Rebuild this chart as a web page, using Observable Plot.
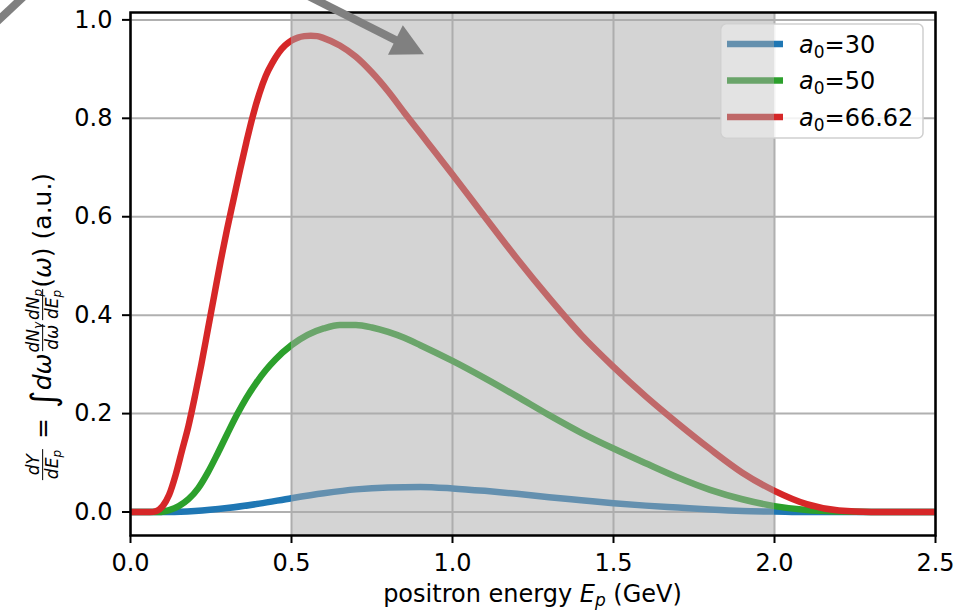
<!DOCTYPE html>
<html><head><meta charset="utf-8">
<script src="https://cdn.jsdelivr.net/npm/d3@7"></script>
<script src="https://cdn.jsdelivr.net/npm/@observablehq/plot@0.6"></script>
<style>
html,body{margin:0;padding:0;background:#fff;}
#wrap{position:relative;width:967px;height:610px;font-family:"DejaVu Sans",sans-serif;overflow:hidden;}
#ylab{position:absolute;left:43px;top:327px;transform:translate(-50%,-50%) rotate(-90deg);font-size:25px;white-space:nowrap;display:flex;align-items:center;color:#000;}
#ylab i{font-style:italic;}
#ylab .frac{display:inline-flex;flex-direction:column;align-items:center;font-size:17px;line-height:1.08;margin:0 1px;}
#ylab .den{border-top:1.4px solid #000;padding:0 1px;}
#ylab sub{font-size:0.7em;vertical-align:-0.25em;line-height:0;}
#ylab .int{font-size:34px;line-height:1;margin-left:1px;}
</style></head><body>
<div id="wrap"></div>
<script>
// ---- data ----
const seriesLabels = ["30", "50", "66.62"];           // a0 values
const seriesColors = ["#1f77b4", "#2ca02c", "#d62728"];
const seriesMuted  = ["#6490ae", "#6aa46a", "#bf6868"];

const blueE = [0, 0.12, 0.2, 0.3, 0.4, 0.5, 0.6, 0.7, 0.8, 0.9, 1.0, 1.1, 1.2, 1.3, 1.4, 1.5, 1.6, 1.7, 1.8, 1.9, 2.0, 2.1, 2.5];
const blueY = [0, 0, 0.002, 0.008, 0.017, 0.028, 0.038, 0.046, 0.05, 0.051, 0.048, 0.043, 0.037, 0.03, 0.024, 0.018, 0.013, 0.009, 0.005, 0.002, 0.001, 0, 0];

const greenE = [0, 0.09, 0.12, 0.15, 0.18, 0.21, 0.24, 0.27, 0.3, 0.33, 0.36, 0.39, 0.42, 0.45, 0.5, 0.55, 0.6, 0.65, 0.7, 0.75, 0.8, 0.85, 0.9, 1.0, 1.1, 1.2, 1.3, 1.4, 1.5, 1.6, 1.7, 1.8, 1.9, 2.0, 2.1, 2.2, 2.3, 2.5];
const greenY = [0, 0, 0.004, 0.012, 0.026, 0.048, 0.08, 0.118, 0.158, 0.197, 0.232, 0.262, 0.288, 0.31, 0.339, 0.36, 0.373, 0.38, 0.38, 0.375, 0.366, 0.354, 0.339, 0.307, 0.272, 0.235, 0.197, 0.161, 0.129, 0.099, 0.07, 0.045, 0.026, 0.012, 0.004, 0.001, 0, 0];

const redE = [0, 0.06, 0.08, 0.1, 0.12, 0.14, 0.16, 0.18, 0.2, 0.22, 0.24, 0.26, 0.28, 0.3, 0.32, 0.34, 0.36, 0.38, 0.4, 0.42, 0.44, 0.46, 0.48, 0.5, 0.52, 0.54, 0.56, 0.58, 0.6, 0.65, 0.7, 0.75, 0.8, 0.85, 0.9, 0.95, 1.0, 1.1, 1.2, 1.3, 1.4, 1.5, 1.6, 1.7, 1.8, 1.9, 2.0, 2.1, 2.2, 2.3, 2.5];
const redY = [0, 0, 0.002, 0.012, 0.035, 0.075, 0.125, 0.175, 0.235, 0.3, 0.37, 0.44, 0.51, 0.575, 0.635, 0.695, 0.752, 0.805, 0.85, 0.886, 0.912, 0.933, 0.948, 0.958, 0.964, 0.967, 0.968, 0.967, 0.963, 0.948, 0.925, 0.893, 0.855, 0.812, 0.77, 0.728, 0.686, 0.6, 0.515, 0.435, 0.36, 0.295, 0.235, 0.18, 0.128, 0.08, 0.043, 0.016, 0.003, 0, 0];

const xTicks = [0, 0.5, 1.0, 1.5, 2.0, 2.5];
const yTicks = [0, 0.2, 0.4, 0.6, 0.8, 1.0];
const xDomain = [0, 2.5];
const yDomain = [-0.0477, 1.015];
const shadeRange = [0.5, 2.0];

// annotation arrow (data units), partly outside the axes
const arrowStart = [0.519, 1.059];
const arrowTip = [0.913, 0.929];
const stubStart = [-0.419, 0.992];
const stubEnd = [-0.326, 1.049];

// ---- build ----
const toRows = (E, Y) => E.map((e, i) => ({e, v: Y[i]}));
const series = [toRows(blueE, blueY), toRows(greenE, greenY), toRows(redE, redY)];

const plot = Plot.plot({
  width: 967, height: 610,
  marginLeft: 130, marginRight: 32, marginTop: 12, marginBottom: 75,
  style: {fontFamily: "DejaVu Sans", background: "white", color: "black"},
  x: {domain: xDomain, label: null},
  y: {domain: yDomain, label: null},
  marks: [
    Plot.gridX(xTicks, {stroke: "#b0b0b0", strokeOpacity: 1, strokeWidth: 2}),
    Plot.gridY(yTicks, {stroke: "#b0b0b0", strokeOpacity: 1, strokeWidth: 2}),
    ...series.map((rows, i) => Plot.line(rows, {x: "e", y: "v", stroke: seriesColors[i], strokeWidth: 6.5, curve: "monotone-x", clip: true, strokeLinecap: "butt"})),
    Plot.rect([{x1: shadeRange[0], x2: shadeRange[1], y1: yDomain[0], y2: yDomain[1]}], {x1: "x1", x2: "x2", y1: "y1", y2: "y2", fill: "darkgray", fillOpacity: 0.5}),
    Plot.frame({stroke: "black", strokeWidth: 2.5}),
    Plot.axisX(xTicks, {tickFormat: d3.format(".1f"), tickSize: 8, tickPadding: 10, fontSize: 24, strokeWidth: 2, label: null}),
    Plot.axisY(yTicks, {tickFormat: d3.format(".1f"), tickSize: 8, tickPadding: 10, fontSize: 24, strokeWidth: 2, label: null})
  ]
});

const sx = plot.scale("x"), sy = plot.scale("y");
const X = v => sx.apply(v), Y = v => sy.apply(v);
const svg = d3.select(plot);

// arrow with filled head
(function () {
  const x0 = X(arrowStart[0]), y0 = Y(arrowStart[1]);
  const x1 = X(arrowTip[0]), y1 = Y(arrowTip[1]);
  const dx = x1 - x0, dy = y1 - y0, L = Math.hypot(dx, dy);
  const ux = dx / L, uy = dy / L, nx = -uy, ny = ux;
  const hl = 32, hw = 16.5;
  const bx = x1 - hl * ux, by = y1 - hl * uy;
  const g = svg.append("g");
  g.append("line").attr("x1", x0).attr("y1", y0).attr("x2", bx + 2 * ux).attr("y2", by + 2 * uy)
    .attr("stroke", "#808080").attr("stroke-width", 8);
  g.append("path").attr("d", `M${bx + hw * nx},${by + hw * ny}L${x1},${y1}L${bx - hw * nx},${by - hw * ny}Z`)
    .attr("fill", "#808080");
  g.append("line").attr("x1", X(stubStart[0])).attr("y1", Y(stubStart[1]))
    .attr("x2", X(stubEnd[0])).attr("y2", Y(stubEnd[1]))
    .attr("stroke", "#808080").attr("stroke-width", 8);
})();

// legend
(function () {
  const g = svg.append("g").attr("text-anchor", "start");
  const bx = 721, by = 24, bw = 202, bh = 114;
  const shadeEnd = X(shadeRange[1]);
  g.append("rect").attr("x", bx).attr("y", by).attr("width", bw).attr("height", bh).attr("rx", 5)
    .attr("fill", "white").attr("fill-opacity", 0.85);
  g.append("rect").attr("x", bx + 1).attr("y", by + 1).attr("width", shadeEnd - bx - 1).attr("height", bh - 2)
    .attr("fill", "#e3e3e3");
  g.append("rect").attr("x", bx).attr("y", by).attr("width", bw).attr("height", bh).attr("rx", 5)
    .attr("fill", "none").attr("stroke", "#cfcfcf").attr("stroke-width", 1.5);
  seriesLabels.forEach((lab, i) => {
    const cy = 44 + i * 36.5;
    g.append("line").attr("x1", 727).attr("x2", shadeEnd).attr("y1", cy).attr("y2", cy)
      .attr("stroke", seriesMuted[i]).attr("stroke-width", 6.5);
    g.append("line").attr("x1", shadeEnd).attr("x2", 783).attr("y1", cy).attr("y2", cy)
      .attr("stroke", seriesColors[i]).attr("stroke-width", 6.5);
    const t = g.append("text").attr("x", 799).attr("y", cy + 8.5).attr("font-size", 24).attr("fill", "black")
      .attr("text-anchor", "start");
    t.append("tspan").attr("font-style", "italic").text("a");
    t.append("tspan").attr("font-size", 17).attr("dy", 5).text("0");
    t.append("tspan").attr("dy", -5).text("=" + lab);
  });
})();

// x label
(function () {
  const t = svg.append("text").attr("x", (X(xDomain[0]) + X(xDomain[1])) / 2).attr("y", 602)
    .attr("text-anchor", "middle").attr("font-size", 24).attr("fill", "black");
  t.append("tspan").text("positron energy ");
  t.append("tspan").attr("font-style", "italic").text("E");
  t.append("tspan").attr("font-style", "italic").attr("font-size", 17).attr("dy", 4).text("p");
  t.append("tspan").attr("dy", -4).text(" (GeV)");
})();

const wrap = document.getElementById("wrap");
wrap.appendChild(plot);

const yl = document.createElement("div");
yl.id = "ylab";
yl.innerHTML =
  '<span class="frac"><span><i>dY</i></span><span class="den"><i>dE<sub>p</sub></i></span></span>' +
  '<span style="margin:0 9px">=</span>' +
  '<span class="int">∫</span><i>dω</i>' +
  '<span class="frac"><span><i>dN<sub>γ</sub></i></span><span class="den"><i>dω</i></span></span>' +
  '<span class="frac"><span><i>dN<sub>p</sub></i></span><span class="den"><i>dE<sub>p</sub></i></span></span>' +
  '<span>(<i>ω</i>)</span><span>&nbsp;(a.u.)</span>';
wrap.appendChild(yl);
</script>
</body></html>
